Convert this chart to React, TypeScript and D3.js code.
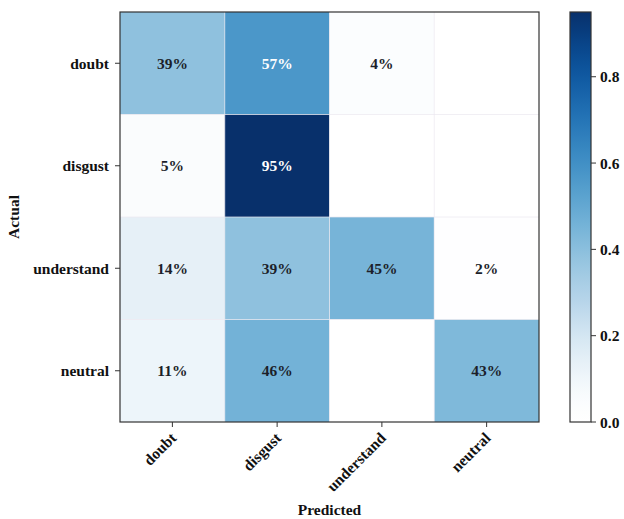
import React from "react";
import * as d3 from "d3";

// Confusion matrix: rows = actual class, columns = predicted class
const classes = ["doubt", "disgust", "understand", "neutral"];
const matrix: number[][] = [
  [0.39, 0.57, 0.04, 0.0],
  [0.05, 0.95, 0.0, 0.0],
  [0.14, 0.39, 0.45, 0.02],
  [0.11, 0.46, 0.0, 0.43],
];
const colorbarTicks = [0.0, 0.2, 0.4, 0.6, 0.8];
const xTitle = "Predicted";
const yTitle = "Actual";

const W = 624;
const H = 519;
const plot = { left: 120, top: 12, right: 539, bottom: 422 };
const cbar = { left: 570, right: 591 };
const FONT = "'Liberation Serif', 'Times New Roman', serif";

// Blues colormap whose low end fades smoothly to pure white
const LOW = 0.3;
const blues = (t: number) =>
  t < LOW
    ? d3.interpolateRgb("#ffffff", d3.interpolateBlues(LOW))(Math.pow(t / LOW, 1.5))
    : d3.interpolateBlues(t);

export default function App() {
  const maxVal = d3.max(matrix.flat()) as number;
  const minVal = d3.min(matrix.flat()) as number;
  const norm = d3.scaleLinear().domain([minVal, maxVal]).range([0, 1]);
  const color = (v: number) => blues(norm(v));

  const x = d3.scaleBand<string>().domain(classes).range([plot.left, plot.right]);
  const y = d3.scaleBand<string>().domain(classes).range([plot.top, plot.bottom]);
  const cy = d3.scaleLinear().domain([minVal, maxVal]).range([plot.bottom, plot.top]);
  const thresh = maxVal / 2;

  const gradStops = d3.range(0, 1.0001, 0.025);

  return (
    <svg
      width={W}
      height={H}
      style={{ position: "absolute", left: 0, top: 0, background: "#fff" }}
      fontFamily={FONT}
      fontWeight="bold"
    >
      <defs>
        <linearGradient id="cbGrad" x1="0" y1="1" x2="0" y2="0">
          {gradStops.map((t) => (
            <stop key={t} offset={t} stopColor={blues(t)} />
          ))}
        </linearGradient>
      </defs>

      {/* heatmap cells */}
      {matrix.map((row, i) =>
        row.map((v, j) => (
          <rect
            key={`c${i}-${j}`}
            x={x(classes[j])}
            y={y(classes[i])}
            width={x.bandwidth()}
            height={y.bandwidth()}
            fill={color(v)}
          />
        ))
      )}

      {/* faint cell separators */}
      {classes.slice(1).map((c) => (
        <g key={`g${c}`}>
          <line x1={x(c)} x2={x(c)} y1={plot.top} y2={plot.bottom} stroke="#ebe8f0" strokeWidth={1} strokeOpacity={0.7} />
          <line x1={plot.left} x2={plot.right} y1={y(c)} y2={y(c)} stroke="#ebe8f0" strokeWidth={1} strokeOpacity={0.7} />
        </g>
      ))}

      {/* cell value labels */}
      {matrix.map((row, i) =>
        row.map((v, j) =>
          v > 0 ? (
            <text
              key={`t${i}-${j}`}
              x={(x(classes[j]) as number) + x.bandwidth() / 2}
              y={(y(classes[i]) as number) + y.bandwidth() / 2}
              textAnchor="middle"
              dominantBaseline="central"
              fontSize={15.5}
              fill={v > thresh ? "#ffffff" : "#1c1f2a"}
            >
              {`${Math.round(v * 100)}%`}
            </text>
          ) : null
        )
      )}

      {/* plot frame */}
      <rect
        x={plot.left}
        y={plot.top}
        width={plot.right - plot.left}
        height={plot.bottom - plot.top}
        fill="none"
        stroke="#333"
        strokeWidth={1.2}
      />

      {/* y axis */}
      {classes.map((c) => {
        const yc = (y(c) as number) + y.bandwidth() / 2;
        return (
          <g key={`yt${c}`}>
            <line x1={plot.left - 5} x2={plot.left} y1={yc} y2={yc} stroke="#333" strokeWidth={1} />
            <text x={plot.left - 11} y={yc} textAnchor="end" dominantBaseline="central" fontSize={15.5} fill="#111">
              {c}
            </text>
          </g>
        );
      })}

      {/* x axis */}
      {classes.map((c) => {
        const xc = (x(c) as number) + x.bandwidth() / 2;
        return (
          <g key={`xt${c}`}>
            <line x1={xc} x2={xc} y1={plot.bottom} y2={plot.bottom + 5} stroke="#333" strokeWidth={1} />
            <text
              transform={`translate(${xc + 5},${plot.bottom + 17}) rotate(-45)`}
              textAnchor="end"
              fontSize={15.5}
              fill="#111"
            >
              {c}
            </text>
          </g>
        );
      })}

      <text x={(plot.left + plot.right) / 2} y={515} textAnchor="middle" fontSize={15.5} fill="#111">
        {xTitle}
      </text>
      <text
        transform={`translate(19,${(plot.top + plot.bottom) / 2}) rotate(-90)`}
        textAnchor="middle"
        fontSize={15.5}
        fill="#111"
      >
        {yTitle}
      </text>

      {/* colorbar */}
      <rect
        x={cbar.left}
        y={plot.top}
        width={cbar.right - cbar.left}
        height={plot.bottom - plot.top}
        fill="url(#cbGrad)"
        stroke="#333"
        strokeWidth={1.2}
      />
      {colorbarTicks.map((t) => (
        <g key={`cb${t}`}>
          <line x1={cbar.right} x2={cbar.right + 5} y1={cy(t)} y2={cy(t)} stroke="#333" strokeWidth={1} />
          <text x={cbar.right + 9} y={cy(t)} dominantBaseline="central" fontSize={15.5} fill="#111">
            {t.toFixed(1)}
          </text>
        </g>
      ))}
    </svg>
  );
}
